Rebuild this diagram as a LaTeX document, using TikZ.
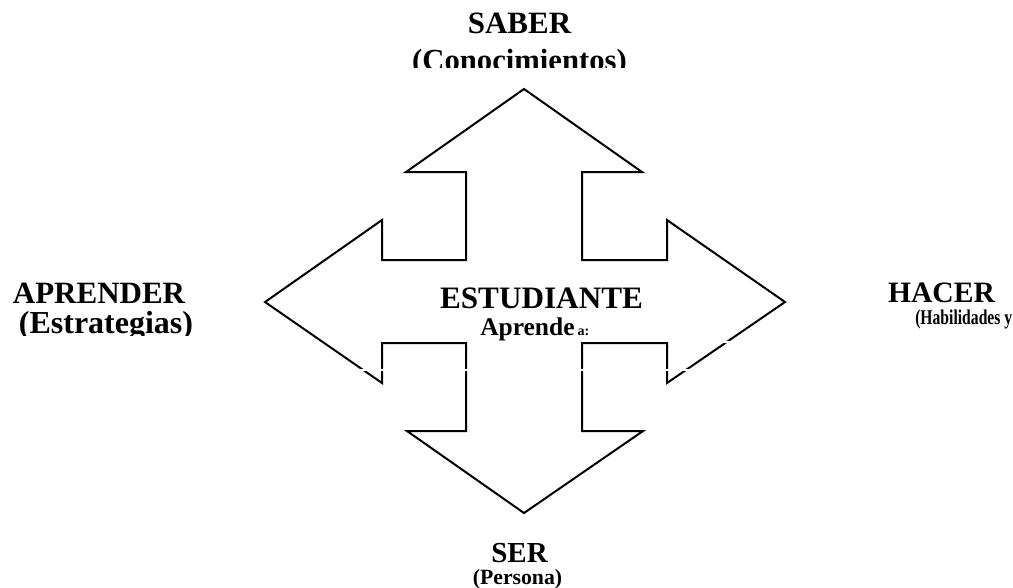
\documentclass[tikz,border=0pt]{standalone}
\usepackage{fontspec}
\setmainfont{Liberation Serif}
\newcommand{\fsz}[1]{\fontsize{#1}{1.2\dimexpr#1\relax}\selectfont\bfseries}
\tikzset{
  lbl/.style={inner sep=0pt, anchor=base, text=black},
  shapeline/.style={draw=black, line width=1.5pt, line join=miter},
  gapline/.style={draw=white, line width=1.6pt}
}
\begin{document}
\begin{tikzpicture}[x=0.75pt,y=-0.75pt]
\useasboundingbox[fill=white] (0,0) rectangle (1013,587);
% quad arrow
\draw[shapeline] (524,89) -- (642,172) -- (582,172) -- (582,260) -- (667,260) -- (667,220)
  -- (785,302) -- (667,383) -- (667,343) -- (582,343) -- (582,431) -- (643,431)
  -- (524,513) -- (407,431) -- (466,431) -- (466,343) -- (382,343) -- (382,383)
  -- (265,302) -- (382,220) -- (382,260) -- (466,260) -- (466,172) -- (406,172) -- cycle;
% small white gaps crossing the lines
\coordinate (g1) at (352,370);
\coordinate (g2) at (692,370);
\coordinate (g3) at (718,342);
\coordinate (g4) at (734,342);
\draw[gapline] (g1) -- (g2);
\draw[gapline] (g3) -- (g4);
% texts
\node[lbl] (saber) at (519.5,33) {\fsz{23.25pt}SABER};
\begin{scope}
\clip (380,36) rectangle (660,67);
\node[lbl] (conoc) at (519.5,70.5) {\fsz{23pt}(Conocimientos)};
\end{scope}
\node[lbl] (aprender) at (99,303) {\fsz{23.25pt}APRENDER};
\begin{scope}
\clip (0,306) rectangle (230,335);
\node[lbl] (estrat) at (106,333) {\fsz{24pt}(Estrategias)};
\end{scope}
\node[lbl] (hacer) at (941.5,302) {\fsz{22.2pt}HACER};
\begin{scope}
\clip (900,305) rectangle (1013,331);
\node[lbl, anchor=base west] (habil) at (915,324) {\scalebox{0.745}[1]{\fsz{15.75pt}(Habilidades y}};
\end{scope}
\node[lbl] (estud) at (541.5,308) {\fsz{23.4pt}ESTUDIANTE};
\node[lbl, anchor=base west] (aprende) at (480,335) {\fsz{19.1pt}Aprende\hspace{2.25pt}{\fsz{10.5pt}a:}};
\node[lbl] (ser) at (519.5,562) {\fsz{21.75pt}SER};
\node[lbl] (persona) at (517.5,584) {\fsz{16.3pt}(Persona)};
\end{tikzpicture}
\end{document}
